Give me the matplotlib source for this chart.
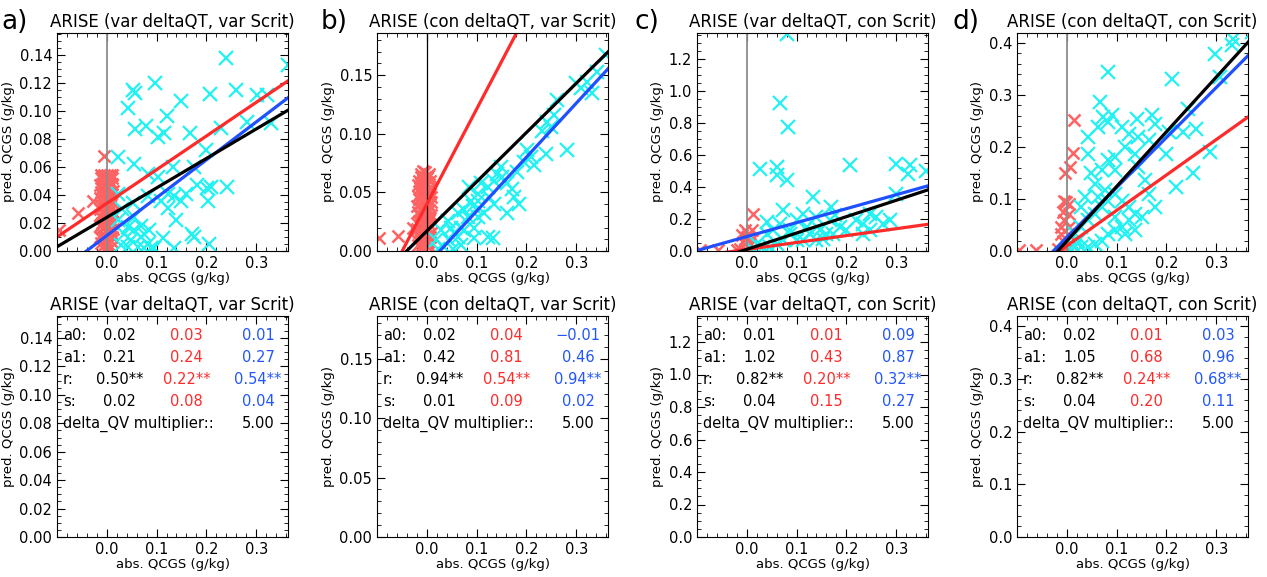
import numpy as np
import matplotlib
matplotlib.use('Agg')
import matplotlib.pyplot as plt
from matplotlib.ticker import MultipleLocator, FixedLocator, FormatStrFormatter

#%% data
titles = ['ARISE (var deltaQT, var Scrit)', 'ARISE (con deltaQT, var Scrit)',
          'ARISE (var deltaQT, con Scrit)', 'ARISE (con deltaQT, con Scrit)']
panel_tags = ['a)', 'b)', 'c)', 'd)']
x_ticks = [0.0, 0.1, 0.2, 0.3]
y_tops = [0.1555, 0.186, 1.36, 0.419]
y_major = [0.02, 0.05, 0.2, 0.1]
y_minor = [0.005, 0.01, 0.05, 0.02]
y_fmt = ['%.2f', '%.2f', '%.1f', '%.1f']

# fit coefficients: [black, red, blue]
a0_fit = [[0.024, 0.034, 0.011], [0.017, 0.040, -0.012],
          [0.0102, 0.010, 0.090], [0.019, 0.010, 0.026]]
a1_fit = [[0.21, 0.24, 0.27], [0.42, 0.81, 0.46],
          [1.02, 0.43, 0.87], [1.05, 0.68, 0.96]]
r_txt = [['0.50**', '0.22**', '0.54**'], ['0.94**', '0.54**', '0.94**'],
         ['0.82**', '0.20**', '0.32**'], ['0.82**', '0.24**', '0.68**']]
s_val = [[0.02, 0.08, 0.04], [0.01, 0.09, 0.02],
         [0.04, 0.15, 0.27], [0.04, 0.20, 0.11]]
multiplier = [5.00, 5.00, 5.00, 5.00]

# panel a
cyan_a = [(0.240, 0.138), (0.363, 0.133), (0.097, 0.120), (0.052, 0.115), (0.056, 0.113),
          (0.042, 0.102), (0.057, 0.087), (0.079, 0.089), (0.102, 0.081), (0.115, 0.084),
          (0.120, 0.096), (0.149, 0.107), (0.167, 0.084), (0.207, 0.112), (0.259, 0.115),
          (0.229, 0.088), (0.282, 0.092), (0.302, 0.111), (0.322, 0.111), (0.329, 0.091),
          (0.199, 0.072), (0.202, 0.045), (0.209, 0.046), (0.203, 0.036), (0.242, 0.046),
          (0.182, 0.047), (0.175, 0.060), (0.132, 0.060), (0.023, 0.067), (0.055, 0.062),
          (0.082, 0.055), (0.102, 0.053), (0.022, 0.041), (0.082, 0.039), (0.109, 0.036),
          (0.122, 0.041), (0.135, 0.039), (0.149, 0.036), (0.159, 0.041), (0.122, 0.031),
          (0.139, 0.022), (0.172, 0.012), (0.175, 0.010), (0.205, 0.005), (0.112, 0.009),
          (0.022, 0.022), (0.035, 0.012), (0.049, 0.008), (0.055, 0.015), (0.062, 0.003),
          (0.069, 0.010), (0.075, 0.002), (0.082, 0.005), (0.089, 0.002), (0.095, 0.002),
          (0.042, 0.003), (0.029, 0.004), (0.069, 0.018), (0.055, 0.024), (0.042, 0.017),
          (0.052, 0.034), (0.075, 0.012), (0.085, 0.015), (0.135, 0.002), (0.030, 0.030)]
red_a = [(-0.005, 0.068), (-0.058, 0.027), (-0.095, 0.015), (-0.028, 0.036),
         (-0.012, 0.006), (-0.006, 0.004), (0.002, 0.005), (0.008, 0.007), (-0.010, 0.012),
         (-0.003, 0.011), (0.004, 0.013), (0.010, 0.010), (-0.013, 0.018), (-0.007, 0.017),
         (0.000, 0.019), (0.006, 0.016), (0.011, 0.020), (-0.011, 0.024), (-0.004, 0.023),
         (0.003, 0.025), (0.009, 0.026), (-0.013, 0.030), (-0.006, 0.029), (0.001, 0.031),
         (0.007, 0.032), (0.011, 0.035), (-0.010, 0.036), (-0.003, 0.037), (0.004, 0.038),
         (0.009, 0.041), (-0.012, 0.042), (-0.005, 0.043), (0.002, 0.044), (0.008, 0.047),
         (-0.009, 0.048), (-0.002, 0.050), (0.005, 0.051), (0.010, 0.052), (-0.011, 0.052),
         (-0.004, 0.053), (0.003, 0.053),
         (-0.009, 0.003), (-0.001, 0.008), (0.006, 0.002), (-0.014, 0.010), (-0.007, 0.009),
         (0.001, 0.015), (0.008, 0.013), (-0.010, 0.020), (-0.003, 0.017), (0.004, 0.021),
         (0.012, 0.016), (-0.014, 0.026), (-0.008, 0.027), (-0.001, 0.027), (0.006, 0.029),
         (0.012, 0.028), (-0.011, 0.033), (-0.004, 0.033), (0.003, 0.034), (0.009, 0.036),
         (-0.013, 0.038), (-0.007, 0.039), (0.000, 0.041), (0.006, 0.042), (0.012, 0.043),
         (-0.009, 0.045), (-0.002, 0.046), (0.005, 0.047), (0.011, 0.048), (-0.013, 0.047),
         (-0.007, 0.051), (0.000, 0.054), (0.007, 0.054), (-0.012, 0.054), (-0.006, 0.054),
         (0.011, 0.054)]

# panel b
cyan_b = [(0.359, 0.167), (0.342, 0.153), (0.322, 0.144), (0.299, 0.143), (0.309, 0.139),
          (0.332, 0.135), (0.282, 0.086), (0.255, 0.116), (0.242, 0.110), (0.249, 0.106),
          (0.262, 0.129), (0.232, 0.102), (0.202, 0.086), (0.209, 0.080), (0.195, 0.076),
          (0.215, 0.073), (0.239, 0.083), (0.182, 0.067), (0.162, 0.058), (0.172, 0.053),
          (0.185, 0.040), (0.175, 0.046), (0.162, 0.032), (0.149, 0.072), (0.142, 0.066),
          (0.135, 0.060), (0.152, 0.063), (0.122, 0.055), (0.125, 0.046), (0.135, 0.040),
          (0.115, 0.032), (0.102, 0.043), (0.092, 0.038), (0.082, 0.029), (0.069, 0.020),
          (0.055, 0.015), (0.045, 0.009), (0.035, 0.003), (0.029, 0.018), (0.042, 0.026),
          (0.062, 0.032), (0.075, 0.035), (0.089, 0.043), (0.102, 0.049), (0.109, 0.058),
          (0.085, 0.055), (0.075, 0.018), (0.062, 0.012), (0.095, 0.020), (0.122, 0.012),
          (0.132, 0.011), (0.022, 0.002), (0.019, 0.009), (0.052, 0.002), (0.069, 0.005),
          (0.095, 0.011), (0.102, 0.029), (0.049, 0.020)]
red_b = [(-0.095, 0.011), (-0.058, 0.013), (-0.028, 0.020),
         (-0.018, 0.005), (-0.010, 0.004), (-0.003, 0.006), (0.005, 0.004), (-0.016, 0.012),
         (-0.008, 0.011), (0.000, 0.013), (0.006, 0.012), (-0.019, 0.019), (-0.012, 0.018),
         (-0.004, 0.020), (0.004, 0.019), (-0.015, 0.026), (-0.007, 0.027), (0.001, 0.025),
         (0.007, 0.028), (-0.018, 0.033), (-0.010, 0.034), (-0.002, 0.032), (0.005, 0.035),
         (-0.014, 0.040), (-0.006, 0.041), (0.002, 0.039), (0.008, 0.042), (-0.017, 0.047),
         (-0.009, 0.048), (-0.001, 0.046), (0.006, 0.049), (-0.013, 0.054), (-0.005, 0.055),
         (0.003, 0.053), (-0.015, 0.060), (-0.008, 0.061), (0.000, 0.062), (0.006, 0.060),
         (-0.011, 0.066), (-0.003, 0.067), (0.004, 0.066),
         (-0.014, 0.003), (-0.006, 0.002), (0.002, 0.003), (-0.020, 0.009), (-0.012, 0.008),
         (-0.004, 0.009), (0.003, 0.008), (0.008, 0.015), (-0.015, 0.016), (-0.008, 0.015),
         (0.000, 0.017), (-0.020, 0.024), (-0.011, 0.023), (-0.003, 0.022), (0.005, 0.023),
         (-0.014, 0.030), (-0.006, 0.030), (0.002, 0.029), (0.009, 0.031), (-0.020, 0.038),
         (-0.010, 0.037), (-0.002, 0.036), (0.005, 0.039), (-0.016, 0.044), (-0.008, 0.044),
         (0.000, 0.043), (0.008, 0.046), (-0.012, 0.051), (-0.004, 0.050), (0.004, 0.051),
         (-0.018, 0.056), (-0.009, 0.057), (0.000, 0.058), (0.007, 0.055), (-0.012, 0.063),
         (-0.004, 0.063), (0.003, 0.064), (-0.007, 0.068)]

# panel c
cyan_c = [(0.080, 1.351), (0.067, 0.926), (0.083, 0.775), (0.027, 0.512), (0.060, 0.522),
          (0.060, 0.477), (0.080, 0.444), (0.207, 0.539), (0.300, 0.543), (0.327, 0.539),
          (0.323, 0.481), (0.360, 0.502), (0.133, 0.336), (0.073, 0.257), (0.300, 0.356),
          (0.170, 0.274), (0.177, 0.222), (0.040, 0.180), (0.113, 0.232), (0.100, 0.191),
          (0.120, 0.149), (0.247, 0.232), (0.260, 0.211), (0.273, 0.170), (0.247, 0.128),
          (0.220, 0.191), (0.200, 0.128), (0.233, 0.108), (0.187, 0.149), (0.173, 0.108),
          (0.160, 0.108), (0.153, 0.077), (0.147, 0.128), (0.140, 0.066), (0.127, 0.108),
          (0.113, 0.066), (0.100, 0.066), (0.087, 0.108), (0.073, 0.066), (0.060, 0.046),
          (0.047, 0.025), (0.033, 0.025), (0.020, 0.046), (0.013, 0.015), (0.053, 0.128),
          (0.040, 0.108), (0.067, 0.170), (0.087, 0.128), (0.140, 0.211), (0.167, 0.191),
          (0.287, 0.191), (0.233, 0.170)]
red_c = [(0.013, 0.232), (0.010, 0.128), (0.000, 0.087), (-0.003, 0.128), (-0.007, 0.056),
         (0.003, 0.025), (-0.013, 0.015), (0.007, 0.046), (-0.010, 0.097), (0.010, 0.077),
         (-0.003, 0.015), (-0.020, 0.008), (-0.057, 0.004), (-0.093, 0.008), (0.003, 0.108)]

# panel d
cyan_d = [(0.372, 0.421), (0.334, 0.408), (0.331, 0.395), (0.297, 0.379), (0.083, 0.344),
          (0.212, 0.331), (0.066, 0.286), (0.307, 0.334), (0.043, 0.219), (0.063, 0.238),
          (0.073, 0.257), (0.090, 0.261), (0.083, 0.248), (0.141, 0.254), (0.172, 0.261),
          (0.178, 0.245), (0.243, 0.273), (0.260, 0.235), (0.233, 0.229), (0.205, 0.229),
          (0.199, 0.187), (0.253, 0.149), (0.287, 0.190), (0.219, 0.123), (0.165, 0.213),
          (0.144, 0.219), (0.124, 0.225), (0.111, 0.238), (0.117, 0.200), (0.097, 0.181),
          (0.083, 0.174), (0.070, 0.155), (0.043, 0.187), (0.049, 0.149), (0.056, 0.129),
          (0.097, 0.155), (0.138, 0.187), (0.144, 0.161), (0.158, 0.136), (0.165, 0.110),
          (0.178, 0.085), (0.138, 0.072), (0.124, 0.085), (0.111, 0.097), (0.097, 0.110),
          (0.083, 0.097), (0.070, 0.085), (0.056, 0.072), (0.043, 0.059), (0.029, 0.046),
          (0.016, 0.033), (0.022, 0.020), (0.029, 0.008), (0.043, 0.008), (0.056, 0.014),
          (0.070, 0.020), (0.083, 0.033), (0.097, 0.040), (0.111, 0.046), (0.124, 0.059),
          (0.138, 0.040), (0.151, 0.065), (0.029, 0.085), (0.036, 0.104), (0.063, 0.104),
          (0.077, 0.117), (0.097, 0.065), (0.117, 0.033), (0.016, 0.008), (0.009, 0.004)]
red_d = [(0.014, 0.251), (0.012, 0.188), (-0.003, 0.149), (0.007, 0.161), (-0.001, 0.094),
         (-0.008, 0.075), (0.005, 0.072), (-0.005, 0.059), (-0.012, 0.046), (0.002, 0.033),
         (-0.008, 0.020), (-0.001, 0.008), (-0.018, 0.004), (0.009, 0.014), (-0.012, 0.033),
         (0.005, 0.046), (-0.005, 0.097), (0.005, 0.091), (-0.062, 0.001), (-0.096, 0.001)]

cyan_pts = [cyan_a, cyan_b, cyan_c, cyan_d]
red_pts = [red_a, red_b, red_c, red_d]
zero_line_col = ['#8c8c8c', 'black', '#8c8c8c', '#8c8c8c']
zero_line_w = [1.3, 0.9, 1.3, 1.3]

fit_cols = ['black', '#ff2a2a', '#1f4fff']
txt_cols = ['black', '#ff2a2a', '#2255ff']
CYAN = '#22f2f2'
SALMON = '#ff6262'

XLIM = (-0.1, 0.364)

#%% figure
fig = plt.figure(figsize=(12.67, 5.77), dpi=100)
lefts = [57, 377, 697, 1017]
W, H = 1267.0, 577.0


def style_axis(ax, k):
    ax.set_xlim(*XLIM)
    ax.set_ylim(0, y_tops[k])
    ax.xaxis.set_major_locator(FixedLocator(x_ticks))
    ax.xaxis.set_minor_locator(MultipleLocator(0.02))
    ax.xaxis.set_major_formatter(FormatStrFormatter('%.1f'))
    ax.yaxis.set_major_locator(MultipleLocator(y_major[k]))
    ax.yaxis.set_minor_locator(MultipleLocator(y_minor[k]))
    ax.yaxis.set_major_formatter(FormatStrFormatter(y_fmt[k]))
    ax.tick_params(which='both', direction='in', top=True, right=True, labelsize=10.5)
    ax.tick_params(which='major', length=6, width=0.8)
    ax.tick_params(which='minor', length=3, width=0.6)
    ax.set_xlabel('abs. QCGS (g/kg)', fontsize=9.5, labelpad=1)
    ax.set_ylabel('pred. QCGS (g/kg)', fontsize=9.5, labelpad=3)
    ax.set_title(titles[k], fontsize=12, pad=4)
    for sp in ax.spines.values():
        sp.set_linewidth(0.8)


for k in range(4):
    # top row: scatter + fits
    ax = fig.add_axes([lefts[k] / W, 1 - 251 / H, 231 / W, 218 / H])
    rx, ry = zip(*red_pts[k])
    cx, cy = zip(*cyan_pts[k])
    ax.plot(rx, ry, ls='none', marker='x', ms=9, mew=1.8, color=SALMON, clip_on=True)
    ax.plot(cx, cy, ls='none', marker='x', ms=9.5, mew=1.6, color=CYAN, clip_on=True)
    ax.axvline(0.0, color=zero_line_col[k], lw=zero_line_w[k])
    xx = np.array(XLIM)
    for j in [1, 2, 0]:
        ax.plot(xx, a0_fit[k][j] + a1_fit[k][j] * xx, color=fit_cols[j], lw=2.3)
    style_axis(ax, k)

    # bottom row: stats table
    bx = fig.add_axes([lefts[k] / W, 1 - 537 / H, 231 / W, 221 / H])
    style_axis(bx, k)
    rows = [('a0:', ['%.2f' % v for v in a0_fit[k]]),
            ('a1:', ['%.2f' % v for v in a1_fit[k]]),
            ('r:', r_txt[k]),
            ('s:', ['%.2f' % v for v in s_val[k]])]
    ys = [0.914, 0.814, 0.711, 0.615]
    cols_x = [0.27, 0.56, 0.87]
    for (lab, vals), yy in zip(rows, ys):
        bx.text(0.025, yy, lab, transform=bx.transAxes, fontsize=10.5, va='center')
        for v, xc, c in zip(vals, cols_x, txt_cols):
            bx.text(xc, yy, v.replace('-', '\u2212'), transform=bx.transAxes,
                    fontsize=10.5, va='center', ha='center', color=c)
    bx.text(0.025, 0.512, 'delta_QV multiplier::', transform=bx.transAxes,
            fontsize=10.5, va='center')
    bx.text(0.87, 0.512, '%.2f' % multiplier[k], transform=bx.transAxes,
            fontsize=10.5, va='center', ha='center')

tag_x = [1, 321, 634, 953]
for t, xp in zip(panel_tags, tag_x):
    fig.text(xp / W, 1 - 22 / H, t, fontsize=19, va='center', ha='left')

fig.savefig('out.png', dpi=100)
